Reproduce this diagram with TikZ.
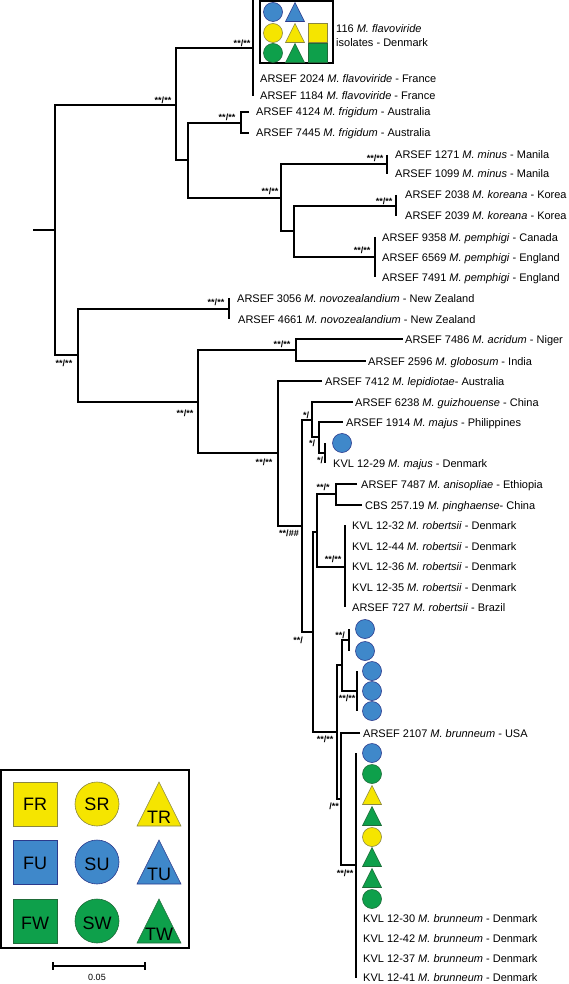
\documentclass[tikz,border=0pt]{standalone}
\usepackage{fontspec}
\setmainfont{Liberation Sans}
\usetikzlibrary{calc}

\definecolor{fillR}{HTML}{F5E500}
\definecolor{lineR}{HTML}{8A8640}
\definecolor{fillU}{HTML}{3F88CA}
\definecolor{lineU}{HTML}{2B3A8C}
\definecolor{fillW}{HTML}{0EA04B}
\definecolor{lineW}{HTML}{1E6B38}

\tikzset{
	branch/.style={line width=1.5pt},
	supp/.style={font=\fontsize{9}{9}\selectfont\bfseries, inner sep=0pt},
	leaf/.style={anchor=west, inner sep=0pt, text height=8pt, text depth=0pt, font=\fontsize{11}{13}\selectfont},
	keytext/.style={inner sep=0pt, font=\fontsize{18}{18}\selectfont},
	symR/.style={fill=fillR, draw=lineR, line width=0.6pt},
	symU/.style={fill=fillU, draw=lineU, line width=0.6pt},
	symW/.style={fill=fillW, draw=lineW, line width=0.6pt},
}
\def\clade(#1)(#2)(#3){\draw[branch] (#2) -| (#1) |- (#3);}
\def\symC[#1](#2)(#3){\draw[#1] (#2) circle (#3);}
\def\symT[#1](#2)(#3){\draw[#1] ($(#2)+(-#3,#3)$) -- ($(#2)+(#3,#3)$) -- ($(#2)+(0,-#3)$) -- cycle;}
\def\symF[#1](#2)(#3){\draw[#1] ($(#2)+(-#3,-#3)$) rectangle ($(#2)+(#3,#3)$);}

\begin{document}
\begin{tikzpicture}[x=1pt, y=-1pt]
		%%%%% START %%%%%
		\useasboundingbox (0,0) rectangle (568,984);
		
		% root
		\coordinate (r0) at (33,230);
		\coordinate (R) at (55,230);
		\coordinate (U) at (176,105);
		\coordinate (L) at (78,355);
		\draw[branch] (r0) -- (R);
		\clade(R)(U)(L)
		
		% upper clade
		\coordinate (F) at (253,48);
		\coordinate (G) at (188,160);
		\clade(U)(F)(G)
		\coordinate (f0) at (253,0);
		\coordinate (f2) at (253,96);
		\clade(F)(f0)(f2)
		\draw[line width=2pt] (260,1) rectangle (333,63);
		\symC[symU](273,12)(9.5)
		\symT[symU](295,12)(9.5)
		\symC[symR](273,33)(9.5)
		\symT[symR](295,33)(9.5)
		\symF[symR](318,33)(9.5)
		\symC[symW](273,53)(9.5)
		\symT[symW](295,53)(9.5)
		\symF[symW](318,53)(9.5)
		\node[leaf] (fl0a) at (336,29) {116 \textit{M. flavoviride}};
		\node[leaf] (fl0b) at (336,43) {isolates - Denmark};
		\node[leaf] (fl1) at (260,79) {ARSEF 2024 \textit{M. flavoviride} - France};
		\node[leaf] (fl2) at (260,96) {ARSEF 1184 \textit{M. flavoviride} - France};
		
		\coordinate (FR) at (241,123);
		\coordinate (H) at (281,198);
		\clade(G)(FR)(H)
		\coordinate (fr1) at (249,112);
		\coordinate (fr2) at (249,133);
		\clade(FR)(fr1)(fr2)
		\node[leaf] (fri1) at (256,112) {ARSEF 4124 \textit{M. frigidum} - Australia};
		\node[leaf] (fri2) at (256,133) {ARSEF 7445 \textit{M. frigidum} - Australia};
		
		\coordinate (MI) at (387,164);
		\coordinate (I) at (294,231);
		\clade(H)(MI)(I)
		\coordinate (mi1) at (387,155);
		\coordinate (mi2) at (387,174);
		\clade(MI)(mi1)(mi2)
		\node[leaf] (min1) at (395,155) {ARSEF 1271 \textit{M. minus} - Manila};
		\node[leaf] (min2) at (395,174) {ARSEF 1099 \textit{M. minus} - Manila};
		
		\coordinate (KO) at (396,206);
		\coordinate (PE) at (375,257);
		\clade(I)(KO)(PE)
		\coordinate (ko1) at (396,195);
		\coordinate (ko2) at (396,216);
		\clade(KO)(ko1)(ko2)
		\node[leaf] (kor1) at (405,195) {ARSEF 2038 \textit{M. koreana} - Korea};
		\node[leaf] (kor2) at (405,216) {ARSEF 2039 \textit{M. koreana} - Korea};
		\coordinate (pe1) at (375,237);
		\coordinate (pe3) at (375,277);
		\clade(PE)(pe1)(pe3)
		\node[leaf] (pem1) at (382,237) {ARSEF 9358 \textit{M. pemphigi} - Canada};
		\node[leaf] (pem2) at (382,257) {ARSEF 6569 \textit{M. pemphigi} - England};
		\node[leaf] (pem3) at (382,277) {ARSEF 7491 \textit{M. pemphigi} - England};
		
		% lower clade
		\coordinate (NZ) at (229,309);
		\coordinate (M) at (198,402);
		\clade(L)(NZ)(M)
		\coordinate (nz1) at (229,298);
		\coordinate (nz2) at (229,319);
		\clade(NZ)(nz1)(nz2)
		\node[leaf] (nov1) at (237,298) {ARSEF 3056 \textit{M. novozealandium} - New Zealand};
		\node[leaf] (nov2) at (238,319) {ARSEF 4661 \textit{M. novozealandium} - New Zealand};
		
		\coordinate (AG) at (296,350);
		\coordinate (N) at (278,453);
		\clade(M)(AG)(N)
		\coordinate (ag1) at (403,339);
		\coordinate (ag2) at (366,361);
		\clade(AG)(ag1)(ag2)
		\node[leaf] (acr) at (405,339) {ARSEF 7486 \textit{M. acridum} - Niger};
		\node[leaf] (glo) at (368,361) {ARSEF 2596 \textit{M. globosum} - India};
		
		\coordinate (lp) at (322,381);
		\coordinate (A) at (302,526);
		\clade(N)(lp)(A)
		\node[leaf] (lep) at (325,381) {ARSEF 7412 \textit{M. lepidiotae}- Australia};
		
		\coordinate (N1) at (312,420);
		\coordinate (B) at (313,632);
		\clade(A)(N1)(B)
		\coordinate (gu) at (353,402);
		\coordinate (N2) at (319,437);
		\clade(N1)(gu)(N2)
		\node[leaf] (gui) at (355,402) {ARSEF 6238 \textit{M. guizhouense} - China};
		\coordinate (mj) at (343,422);
		\coordinate (N3) at (325,453);
		\clade(N2)(mj)(N3)
		\node[leaf] (maj1) at (346,422) {ARSEF 1914 \textit{M. majus} - Philippines};
		\coordinate (c1) at (325,443);
		\coordinate (k1) at (325,463);
		\clade(N3)(c1)(k1)
		\symC[symU](342,443)(9.5)
		\node[leaf] (maj2) at (333,463) {KVL 12-29 \textit{M. majus} - Denmark};
		
		\coordinate (C) at (317,532);
		\coordinate (D) at (337,732);
		\clade(B)(C)(D)
		\coordinate (AP) at (336,494);
		\coordinate (RO) at (345,567);
		\clade(C)(AP)(RO)
		\coordinate (ap1) at (357,484);
		\coordinate (ap2) at (362,505);
		\clade(AP)(ap1)(ap2)
		\node[leaf] (ani) at (361,484) {ARSEF 7487 \textit{M. anisopliae} - Ethiopia};
		\node[leaf] (pin) at (365,505) {CBS 257.19 \textit{M. pinghaense}- China};
		\coordinate (ro1) at (345,525);
		\coordinate (ro5) at (345,607);
		\clade(RO)(ro1)(ro5)
		\node[leaf] (rob1) at (352,525) {KVL 12-32 \textit{M. robertsii} - Denmark};
		\node[leaf] (rob2) at (352,546) {KVL 12-44 \textit{M. robertsii} - Denmark};
		\node[leaf] (rob3) at (352,566) {KVL 12-36 \textit{M. robertsii} - Denmark};
		\node[leaf] (rob4) at (352,587) {KVL 12-35 \textit{M. robertsii} - Denmark};
		\node[leaf] (rob5) at (352,607) {ARSEF 727 \textit{M. robertsii} - Brazil};
		
		\coordinate (E) at (342,665);
		\coordinate (Fb) at (341,799);
		\clade(D)(E)(Fb)
		\coordinate (S2) at (349,640);
		\coordinate (S3) at (357,691);
		\clade(E)(S2)(S3)
		\coordinate (s21) at (349,629);
		\coordinate (s22) at (349,651);
		\clade(S2)(s21)(s22)
		\symC[symU](365,629)(9.5)
		\symC[symU](365,651)(9.5)
		\coordinate (s31) at (357,671);
		\coordinate (s33) at (357,711);
		\clade(S3)(s31)(s33)
		\symC[symU](372,671)(9.5)
		\symC[symU](372,691)(9.5)
		\symC[symU](372,711)(9.5)
		
		\coordinate (us) at (360,733);
		\coordinate (BR) at (356,865);
		\clade(Fb)(us)(BR)
		\node[leaf] (bru0) at (363,733) {ARSEF 2107 \textit{M. brunneum} - USA};
		\coordinate (br1) at (356,753);
		\coordinate (br12) at (356,978);
		\clade(BR)(br1)(br12)
		\symC[symU](372,753)(9.5)
		\symC[symW](372,774)(9.5)
		\symT[symR](372,795)(9.5)
		\symT[symW](372,816)(9.5)
		\symC[symR](372,837)(9.5)
		\symT[symW](372,857)(9.5)
		\symT[symW](372,878)(9.5)
		\symC[symW](372,899)(9.5)
		\node[leaf] (bru1) at (363,918) {KVL 12-30 \textit{M. brunneum} - Denmark};
		\node[leaf] (bru2) at (363,938) {KVL 12-42 \textit{M. brunneum} - Denmark};
		\node[leaf] (bru3) at (363,958) {KVL 12-37 \textit{M. brunneum} - Denmark};
		\node[leaf] (bru4) at (363,977) {KVL 12-41 \textit{M. brunneum} - Denmark};
		
		% support values
		\node[supp] (sU) at (163,100) {**/**};
		\node[supp] (sF) at (242,43) {**/**};
		\node[supp] (sFR) at (227,117) {**/**};
		\node[supp] (sH) at (270,191) {**/**};
		\node[supp] (sMI) at (375,158) {**/**};
		\node[supp] (sKO) at (384,201) {**/**};
		\node[supp] (sPE) at (362,250) {**/**};
		\node[supp] (sL) at (64,363) {**/**};
		\node[supp] (sNZ) at (216,302) {**/**};
		\node[supp] (sM) at (185,413) {**/**};
		\node[supp] (sAG) at (282,344) {**/**};
		\node[supp] (sN) at (264,462) {**/**};
		\node[supp] (sA) at (289,533) {**/\#\#};
		\node[supp] (sN1) at (306,415) {*/};
		\node[supp] (sN2) at (312,443) {*/};
		\node[supp] (sN3) at (320,460) {*/};
		\node[supp] (sB) at (298,640) {**/};
		\node[supp] (sAP) at (323,487) {**/*};
		\node[supp] (sRO) at (333,559) {**/**};
		\node[supp] (sD) at (325,739) {**/**};
		\node[supp] (sS2) at (340,635) {**/};
		\node[supp] (sS3) at (347,698) {**/**};
		\node[supp] (sFb) at (334,806) {/**};
		\node[supp] (sBR) at (345,873) {**/**};
		
		% legend
		\draw[line width=2pt] (1,770) rectangle (189,948);
		\symF[symR](35,804)(22)
		\symC[symR](97,804)(22)
		\symT[symR](159,804)(22)
		\symF[symU](35,862)(22)
		\symC[symU](97,862)(22)
		\symT[symU](159,862)(22)
		\symF[symW](35,921)(22)
		\symC[symW](97,921)(22)
		\symT[symW](159,921)(22)
		\node[keytext] (kFR) at (35,804) {FR};
		\node[keytext] (kSR) at (97,804) {SR};
		\node[keytext] (kTR) at (159,817) {TR};
		\node[keytext] (kFU) at (35,863) {FU};
		\node[keytext] (kSU) at (97,864) {SU};
		\node[keytext] (kTU) at (159,874) {TU};
		\node[keytext] (kFW) at (35,923) {FW};
		\node[keytext] (kSW) at (97,923) {SW};
		\node[keytext] (kTW) at (159,934) {TW};
		
		% scale bar
		\coordinate (sb0) at (53,966);
		\coordinate (sb1) at (145,966);
		\draw[line width=1.5pt] (sb0) -- (sb1);
		\draw[line width=1.5pt] ($(sb0)+(0,-4)$) -- ($(sb0)+(0,4)$);
		\draw[line width=1.5pt] ($(sb1)+(0,-4)$) -- ($(sb1)+(0,4)$);
		\node[inner sep=0pt, font=\fontsize{9}{9}\selectfont] (sbl) at (97,977) {0.05};
		
		%%%%% END %%%%%
\end{tikzpicture}
\end{document}
